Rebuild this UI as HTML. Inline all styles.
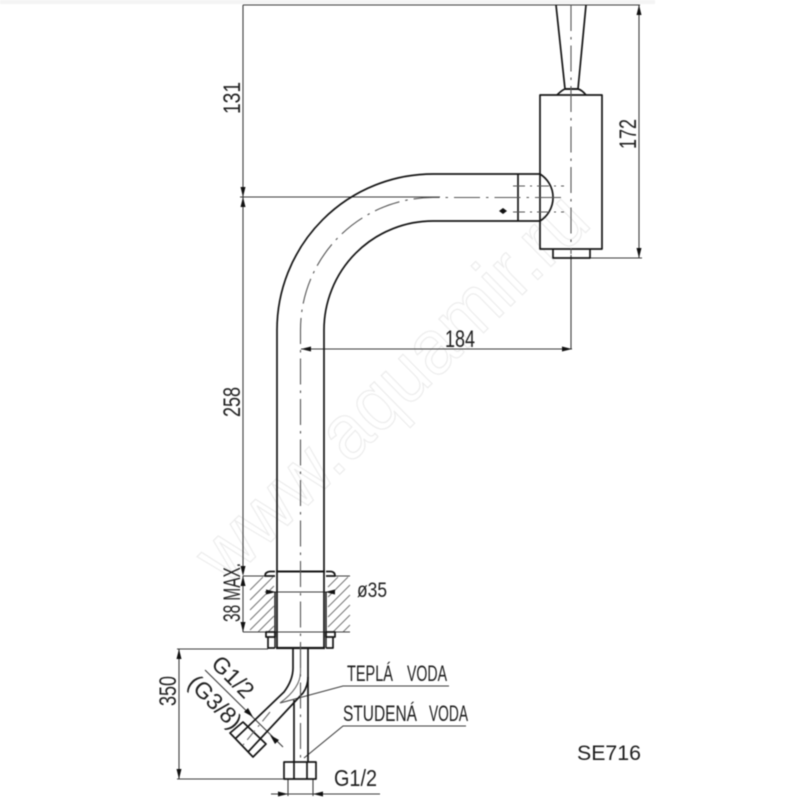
<!DOCTYPE html>
<html>
<head>
<meta charset="utf-8">
<style>
html,body{margin:0;padding:0;background:#fff;}
svg{display:block;filter:blur(0.45px);}
text{font-family:"Liberation Sans",sans-serif;fill:#202020;}
</style>
</head>
<body>
<svg width="800" height="800" viewBox="0 0 800 800" xmlns="http://www.w3.org/2000/svg">
<rect width="800" height="800" fill="#fff"/>
<rect x="0" y="0" width="655" height="4" fill="#f4f4f4"/>

<!-- watermark -->
<text transform="translate(226,586) rotate(-44.5)" x="0" y="0" font-size="78" textLength="515" lengthAdjust="spacingAndGlyphs" style="fill:#fff;stroke:#ececec;stroke-width:1.2">www.aquamir.ru</text>

<!-- hatch -->
<g stroke="#777" stroke-width="1" fill="none">
<path d="M250 590L263 577M250 600L273 577M250 610L274 586M250 620L274 596M250 630L274 606M258 632L274 616M268 632L274 626"/>
<path d="M328 587L338 577M328 597L348 577M328 607L350 585M328 617L350 595M328 627L350 605M333 632L350 615M343 632L350 625"/>
</g>

<!-- thin lines -->
<g stroke="#3c3c3c" stroke-width="1.1" fill="none">
<path d="M243 5H640"/>
<path d="M590 258H642"/>
<path d="M639 5V258"/>
<path d="M243 5V570"/>
<path d="M240 197H440"/>
<path d="M301 349H572"/>
<path d="M571 255V349"/>
<path d="M243 576H275M326 576H350"/>
<path d="M243 576V632"/>
<path d="M243 632H350"/>
<path d="M265 592H335"/>
<path d="M177 649H268"/>
<path d="M179 649V779"/>
<path d="M177 779H286"/>
<path d="M288 779V796M313 779V796"/>
<path d="M271 794H380"/>
<path d="M205 670L283 747"/>
<path d="M449 686H343L280 703"/>
<path d="M466 726H343L304 758"/>
</g>

<!-- arrowheads -->
<g fill="#111" stroke="none">
<path d="M639 5l-2.500 10h5zM639 258l-2.500 -10h5z"/>
<path d="M243 197l-2.500 -10h5zM243 197l-2.500 10h5z"/>
<path d="M301 349l10 -2.500v5zM572 349l-10 -2.500v5z"/>
<path d="M243 576l-2.500 -10h5zM243 576l-2.500 10h5zM243 632l-2.500 -10h5z"/>
<path d="M276 592l-10 -2.500v5zM325 592l10 -2.500v5z"/>
<path d="M179 649l-2.500 10h5zM179 779l-2.500 -10h5z"/>
<path d="M288 794l-10 -2.500v5zM313 794l10 -2.500v5z"/>
<path d="M253 717l-9 -5l4 -4zM270 735l9 5l-4 4z"/>
<path d="M503 208l4 3l-4 3l-4 -3z"/>
</g>

<!-- main outlines -->
<g stroke="#161616" stroke-width="1.700" fill="none" stroke-linejoin="round">
<path d="M556 5L565 89H578L586 5"/>
<path d="M557 95Q562 90 565 89H578Q582 90 586 95"/>
<rect x="540" y="95" width="62" height="154"/>
<path d="M553 249V258H590V249"/>
<path d="M540 174H433A156 156 0 0 0 277 330V648"/>
<path d="M540 221H433A109 109 0 0 0 324 330V648"/>
<path d="M518 174V221"/>
<path d="M540 174A27.700 27.700 0 0 1 540 221"/>
<path d="M276 571.500H325" stroke-width="2"/>
<path d="M276 648H325" stroke-width="2.200"/>
<path d="M275 592V648M326 592V648" stroke-width="1.400"/>
<path d="M275 571.500H270Q265 572 265 576H275"/>
<path d="M326 571.500H331Q335 572 335 576H326"/>
<path d="M266 632H275V637H266Z"/>
<path d="M326 632H335V637H326Z"/>
<path d="M268 637V648H275M333 637V648H326"/>
<!-- lower pipes -->
<path d="M293 649V668Q293 680 284 692L235 739"/>
<path d="M308 649V677Q308 686 303 693L248 752"/>
<path d="M294 700V762M308 677V762"/>
<rect x="284" y="762" width="32" height="17"/>
<path d="M294 762V779M307 762V779"/>
<path d="M230 733L243 722L266 744L253 757Z"/>
</g>

<!-- inner thin pipe line -->
<path d="M300.500 649V672Q300.500 688 280 703" stroke="#666" stroke-width="1.100" fill="none"/>
<path d="M270 712L243 745" stroke="#666" stroke-width="1.100" fill="none" stroke-dasharray="12 5 2 5"/>

<!-- centre lines -->
<g stroke="#555" stroke-width="1.100" fill="none" stroke-dasharray="26 6 2.500 6">
<path d="M571 5V254"/>
<path d="M561 197.500H433A132.500 132.500 0 0 0 300.500 330V762"/>
</g>
<g stroke="#555" stroke-width="1" fill="none" stroke-dasharray="12 5 2 5">
<path d="M513 186H564"/>
<path d="M513 212H564"/>
</g>

<!-- labels -->
<g font-size="24">
<text transform="translate(240,98) rotate(-90)" text-anchor="middle" textLength="32" lengthAdjust="spacingAndGlyphs">131</text>
<text transform="translate(636,134) rotate(-90)" text-anchor="middle" textLength="30" lengthAdjust="spacingAndGlyphs">172</text>
<text x="445" y="347" textLength="30" lengthAdjust="spacingAndGlyphs">184</text>
<text transform="translate(240,402) rotate(-90)" text-anchor="middle" textLength="30" lengthAdjust="spacingAndGlyphs">258</text>
<text transform="translate(240,592.500) rotate(-90)" text-anchor="middle" font-size="24" textLength="59" lengthAdjust="spacingAndGlyphs">38 MAX.</text>
<text x="357" y="597" font-size="21" textLength="30" lengthAdjust="spacingAndGlyphs">ø35</text>
<text transform="translate(176,691) rotate(-90)" text-anchor="middle" textLength="30" lengthAdjust="spacingAndGlyphs">350</text>
<text transform="translate(227.500,682.500) rotate(45)" text-anchor="middle" font-size="23" textLength="49" lengthAdjust="spacingAndGlyphs">G1/2</text>
<text transform="translate(209.500,707.500) rotate(45)" text-anchor="middle" font-size="23" textLength="65" lengthAdjust="spacingAndGlyphs">(G3/8)</text>
<text x="347" y="681" font-size="22" textLength="46" lengthAdjust="spacingAndGlyphs">TEPLÁ</text>
<text x="407" y="681" font-size="22" textLength="40" lengthAdjust="spacingAndGlyphs">VODA</text>
<text x="343" y="721" font-size="22" textLength="74" lengthAdjust="spacingAndGlyphs">STUDENÁ</text>
<text x="429" y="721" font-size="22" textLength="39" lengthAdjust="spacingAndGlyphs">VODA</text>
<text x="334" y="786" font-size="23" textLength="43" lengthAdjust="spacingAndGlyphs">G1/2</text>
<text x="577" y="760" font-size="21" textLength="64" lengthAdjust="spacingAndGlyphs">SE716</text>
</g>
</svg>
</body>
</html>
